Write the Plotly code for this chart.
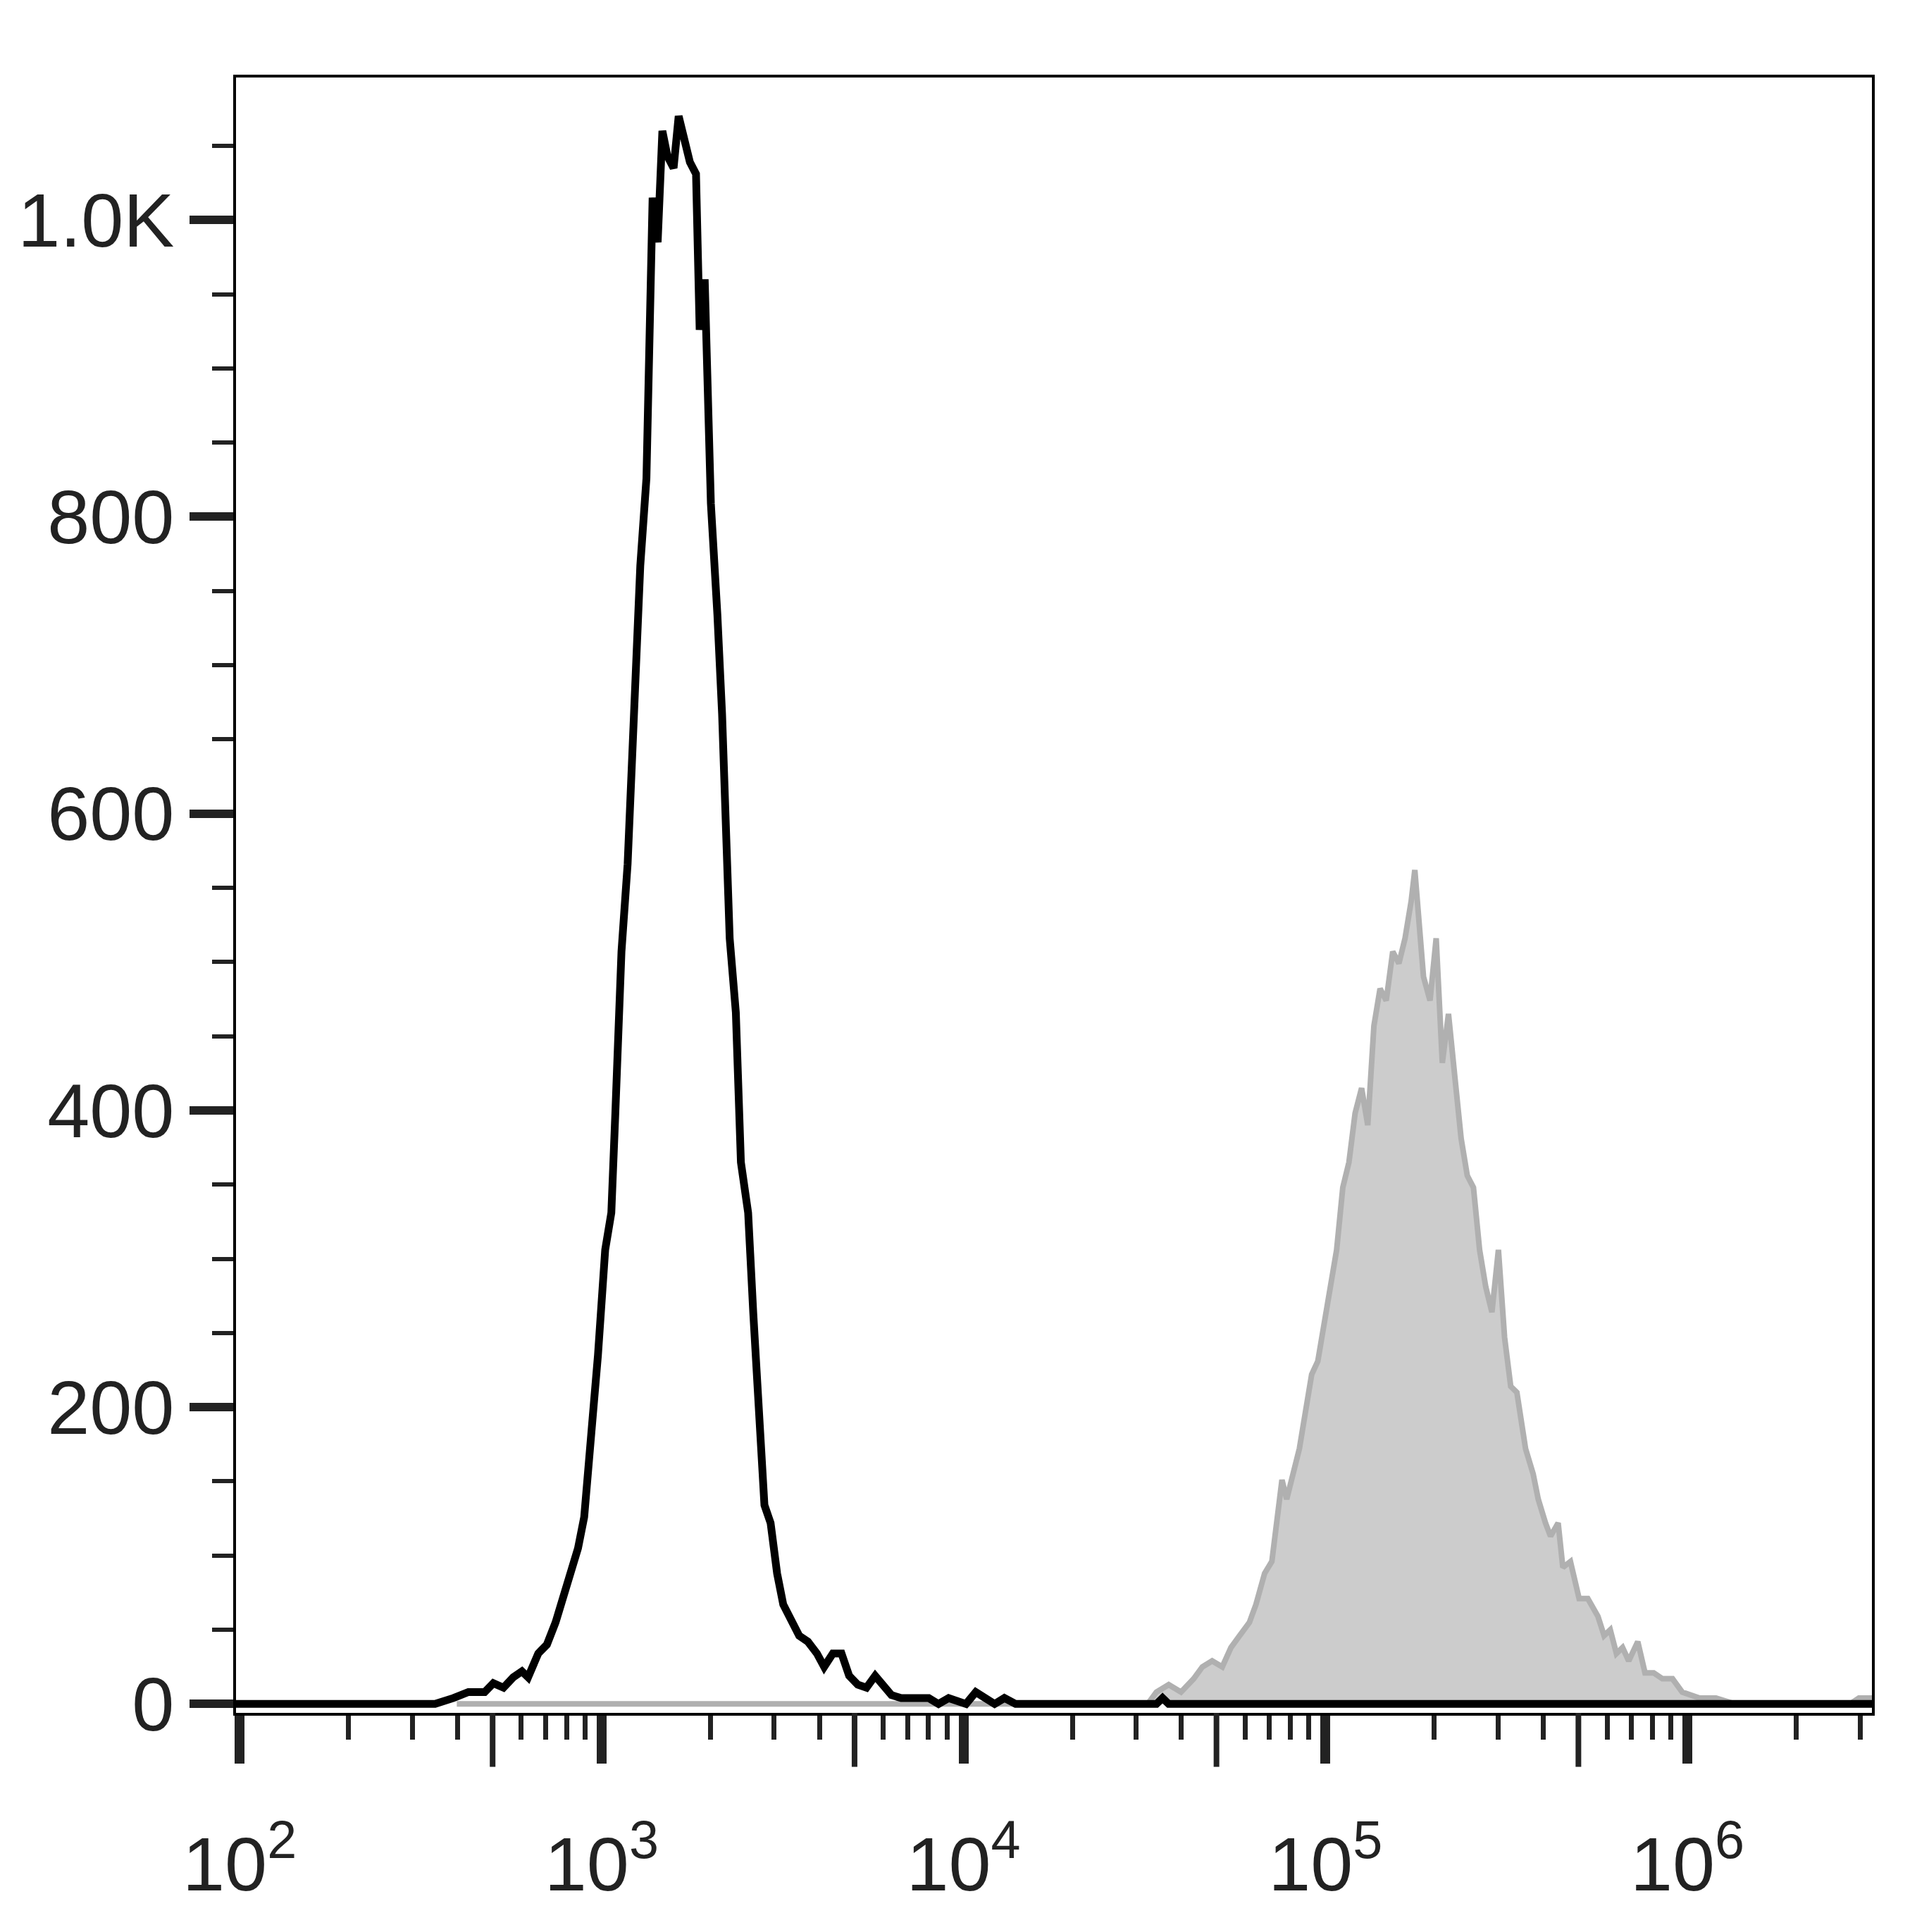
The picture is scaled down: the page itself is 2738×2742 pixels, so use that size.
import numpy as np
import plotly.graph_objects as go

# log10 fluorescence positions and event counts (10 per row)
black_log = [1.99, 2.54, 2.591, 2.632, 2.677, 2.701, 2.729, 2.756, 2.780, 2.797,
             2.825, 2.849, 2.873, 2.893, 2.918, 2.935, 2.952, 2.969, 2.990, 3.010,
             3.027, 3.038, 3.055, 3.072, 3.089, 3.107, 3.124, 3.134, 3.141, 3.155,
             3.168, 3.182, 3.199, 3.213, 3.230, 3.244, 3.261, 3.271, 3.285, 3.302,
             3.320, 3.333, 3.354, 3.371, 3.385, 3.405, 3.419, 3.436, 3.450, 3.467,
             3.485, 3.502, 3.526, 3.546, 3.570, 3.595, 3.615, 3.639, 3.663, 3.684,
             3.708, 3.732, 3.756, 3.777, 3.801, 3.828, 3.904, 3.931, 3.959, 4.007,
             4.034, 4.086, 4.113, 4.144, 4.533, 4.550, 4.567, 6.51]
black_counts = [0, 0, 4, 8, 8, 14, 11, 18, 22, 18,
                34, 40, 55, 71, 88, 105, 126, 172, 235, 306,
                331, 398, 507, 566, 675, 767, 826, 935, 1015, 985,
                1060, 1043, 1035, 1070, 1052, 1039, 1031, 926, 960, 809,
                734, 667, 516, 466, 365, 331, 264, 180, 134, 122,
                88, 67, 55, 46, 42, 34, 25, 34, 34, 19,
                13, 11, 19, 13, 6, 4, 4, 0, 4, 0,
                8, 0, 4, 0, 0, 4, 0, 0]

gray_log = [2.60, 3.96, 4.509, 4.533, 4.567, 4.601, 4.636, 4.660, 4.687, 4.715,
            4.739, 4.763, 4.790, 4.808, 4.832, 4.852, 4.866, 4.880, 4.893, 4.911,
            4.928, 4.945, 4.962, 4.979, 4.997, 5.014, 5.031, 5.048, 5.065, 5.082,
            5.100, 5.117, 5.134, 5.151, 5.168, 5.186, 5.203, 5.220, 5.237, 5.247,
            5.261, 5.271, 5.289, 5.306, 5.323, 5.340, 5.357, 5.375, 5.392, 5.409,
            5.426, 5.443, 5.460, 5.478, 5.495, 5.512, 5.529, 5.553, 5.574, 5.588,
            5.608, 5.622, 5.643, 5.656, 5.677, 5.701, 5.725, 5.753, 5.770, 5.787,
            5.804, 5.821, 5.838, 5.863, 5.883, 5.907, 5.931, 5.959, 5.986, 6.010,
            6.034, 6.079, 6.113, 6.131, 6.45, 6.474, 6.51]
gray_counts = [0, 0, 0, 8, 13, 8, 17, 25, 29, 25,
               38, 46, 55, 67, 88, 96, 122, 151, 138, 155,
               172, 197, 222, 231, 256, 285, 306, 348, 365, 398,
               415, 390, 457, 482, 474, 507, 499, 516, 541, 562,
               516, 490, 474, 516, 432, 465, 424, 381, 356, 348,
               306, 281, 264, 306, 247, 214, 210, 172, 155, 138,
               122, 113, 122, 92, 96, 71, 71, 59, 46, 50,
               34, 38, 29, 42, 21, 21, 17, 17, 8, 6,
               4, 4, 2, 0, 0, 4, 4]

x_tickvals = [100, 1000, 10000, 100000, 1000000]
x_ticktext = ["10<sup>2</sup>", "10<sup>3</sup>", "10<sup>4</sup>", "10<sup>5</sup>", "10<sup>6</sup>"]
x_minorvals = [m * 10 ** e for e in range(2, 7) for m in range(2, 10)]
y_tickvals = [0, 200, 400, 600, 800, 1000]
y_ticktext = ["0", "200", "400", "600", "800", "1.0K"]

fig = go.Figure()

fig.add_trace(go.Scatter(
    x=np.power(10.0, gray_log), y=gray_counts,
    mode="lines", fill="tozeroy", fillcolor="#cccccc",
    line=dict(color="#b0b0b0", width=8), showlegend=False,
))
fig.add_trace(go.Scatter(
    x=np.power(10.0, black_log), y=black_counts,
    mode="lines", line=dict(color="black", width=11), showlegend=False,
))

# medium-length ticks at 5 x 10^n
for e in range(2, 7):
    fig.add_shape(type="line", xref="x", yref="paper", x0=5 * 10 ** e, x1=5 * 10 ** e,
                  y0=0, y1=-0.033, line=dict(color="#222222", width=8))

font = dict(family="Liberation Sans, Arial", size=108, color="#222222")

fig.update_layout(
    width=2738, height=2742,
    margin=dict(l=327, r=89, t=102, b=319),
    plot_bgcolor="white", paper_bgcolor="white",
    xaxis=dict(
        type="log", range=[1.99, 6.51],
        tickvals=x_tickvals, ticktext=x_ticktext, tickfont=font,
        ticks="outside", ticklen=68, tickwidth=14, tickcolor="#222222",
        ticklabelstandoff=50,
        minor=dict(tickvals=x_minorvals, ticks="outside", ticklen=34, tickwidth=7,
                   tickcolor="#222222", showgrid=False),
        showgrid=False, zeroline=False,
        showline=True, linecolor="black", linewidth=4, mirror=True,
    ),
    yaxis=dict(
        range=[-6, 1096],
        tickvals=y_tickvals, ticktext=y_ticktext, tickfont=font,
        ticks="outside", ticklen=62, tickwidth=12, tickcolor="#222222",
        minor=dict(dtick=50, ticks="outside", ticklen=30, tickwidth=6, tickcolor="#222222", showgrid=False),
        showgrid=False, zeroline=False,
        showline=True, linecolor="black", linewidth=4, mirror=True,
    ),
)

fig.write_html("out.html")
